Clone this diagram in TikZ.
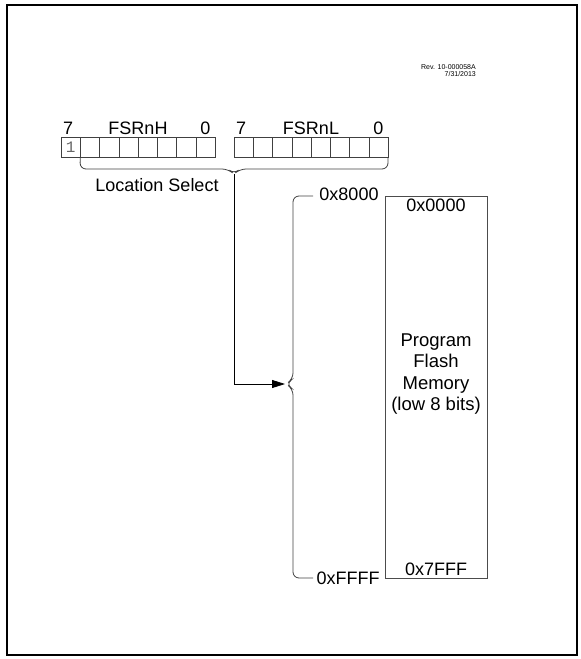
\documentclass[tikz,border=0pt]{standalone}
\usepackage{fontspec}
\setmainfont{Liberation Sans}
\setmonofont{Liberation Mono}
\usetikzlibrary{positioning,arrows.meta,calc}

\begin{document}
\begin{tikzpicture}[x=1pt, y=-1pt,
    cell/.style={draw=black!75, minimum width=19.25pt, minimum height=20pt, inner sep=0pt, outer sep=0pt, anchor=north west},
    lbl/.style={font=\fontsize{18}{20}\selectfont, inner sep=1pt},
    mem/.style={draw=black!70, line width=0.9pt, minimum width=102pt, minimum height=382pt, inner sep=0pt},
    brk/.style={draw=black!75, line width=0.8pt, rounded corners=6pt},
    arr/.style={-{Triangle[length=13pt, width=8pt]}, line width=0.8pt}]
  \useasboundingbox (0,0) rectangle (581,659);
  \draw[line width=2.5pt] (7,5) rectangle (577,655);
  % revision
  \node[font=\fontsize{7}{7.5}\selectfont, align=right, anchor=north east, inner sep=0pt] (rev) at (476,64) {Rev. 10-000058A\\7/31/2013};
  % registers
  \foreach \i in {0,...,7} {
    \node[cell] (h\i) at ({61+19.25*\i},137) {};
    \node[cell] (l\i) at ({234+19.25*\i},137) {};
  }
  \node[font=\fontsize{16}{16}\selectfont\ttfamily, text=black!60] (bit) at (h0.center) {1};
  \node[lbl, above=1pt of h0.north west, anchor=south west, xshift=1pt] (h7lbl) {7};
  \node[lbl, above=1pt of h7.north] (h0lbl) {0};
  \node[lbl, above=1pt of $(h3.north)!0.5!(h4.north)$] (hname) {FSRnH};
  \node[lbl, above=1pt of l0.north west, anchor=south west, xshift=1pt] (l7lbl) {7};
  \node[lbl, above=1pt of l7.north] (l0lbl) {0};
  \node[lbl, above=1pt of $(l3.north)!0.5!(l4.north)$] (lname) {FSRnL};
  % brace under the bits
  \draw[brk] (h1.south west) -- (80,169) -- (228,169) -- (234,174) -- (240,169) -- (388,169) -- (l7.south east);
  \coordinate (rtip) at (234,174);
  \node[lbl] (sel) at (157,185) {Location Select};
  % memory
  \node[mem] (flash) at (436,387) {};
  \node[lbl, align=center, font=\fontsize{18.5}{21.5}\selectfont, yshift=13pt] (name) at (flash.center) {Program\\Flash\\Memory\\(low 8 bits)};
  \node[lbl, below=2pt of flash.north] (first) {0x0000};
  \node[lbl, above=2pt of flash.south] (last) {0x7FFF};
  \node[lbl] (start) at (349,194) {0x8000};
  \node[lbl] (stop) at (348,578) {0xFFFF};
  \draw[brk] (313,196) -- (293,196) -- (293,379) -- (286,384) -- (293,389) -- (293,578) -- (313,578);
  \coordinate (mtip) at (285,384);
  \draw[arr] (rtip) |- (mtip);
\end{tikzpicture}
\end{document}
